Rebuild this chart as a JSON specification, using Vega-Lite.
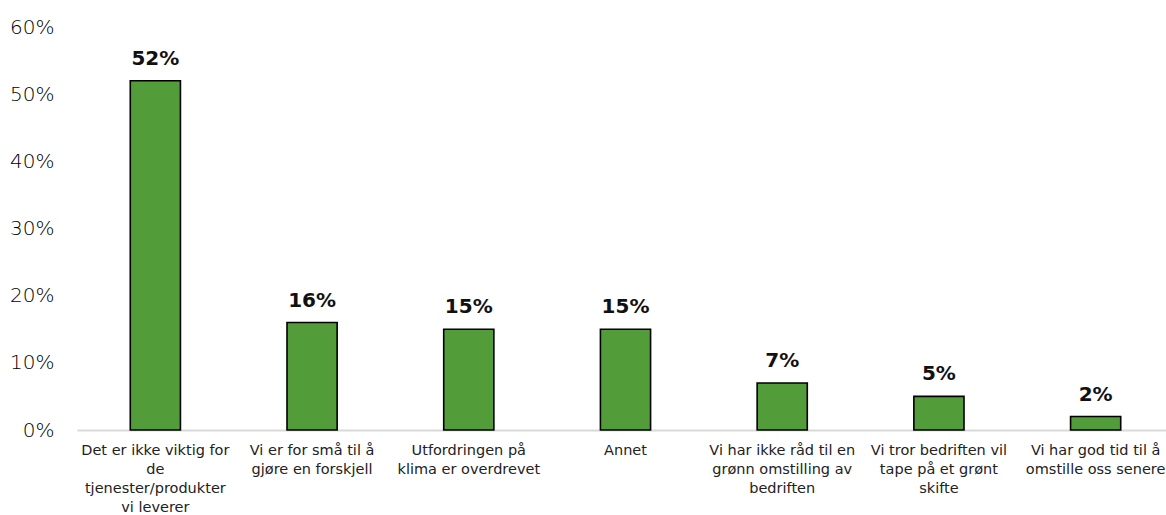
{
  "$schema": "https://vega.github.io/schema/vega-lite/v6.json",
  "width": 1097,
  "height": 403,
  "autosize": "none",
  "padding": {"left": 77, "top": 27, "right": 0, "bottom": 85},
  "background": "white",
  "config": {"view": {"stroke": null}, "font": "DejaVu Sans"},
  "data": {"values": [
    {"kategori": "Det er ikke viktig for de tjenester/produkter vi leverer", "andel": 0.52},
    {"kategori": "Vi er for små til å gjøre en forskjell", "andel": 0.16},
    {"kategori": "Utfordringen på klima er overdrevet", "andel": 0.15},
    {"kategori": "Annet", "andel": 0.15},
    {"kategori": "Vi har ikke råd til en grønn omstilling av bedriften", "andel": 0.07},
    {"kategori": "Vi tror bedriften vil tape på et grønt skifte", "andel": 0.05},
    {"kategori": "Vi har god tid til å omstille oss senere", "andel": 0.02}
  ]},
  "encoding": {
    "x": {
      "field": "kategori", "type": "nominal", "sort": null,
      "scale": {"paddingInner": 0.68, "paddingOuter": 0.34},
      "axis": {
        "title": null, "labelAngle": 0, "ticks": false,
        "domainColor": "#d9d9d9", "domainWidth": 2,
        "labelFontSize": 14.5, "labelColor": "#222222", "labelPadding": 13,
        "labelLineHeight": 19, "labelLimit": 200,
        "labelExpr": "{'Det er ikke viktig for de tjenester/produkter vi leverer': ['Det er ikke viktig for', 'de', 'tjenester/produkter', 'vi leverer'], 'Vi er for små til å gjøre en forskjell': ['Vi er for små til å', 'gjøre en forskjell'], 'Utfordringen på klima er overdrevet': ['Utfordringen på', 'klima er overdrevet'], 'Annet': 'Annet', 'Vi har ikke råd til en grønn omstilling av bedriften': ['Vi har ikke råd til en', 'grønn omstilling av', 'bedriften'], 'Vi tror bedriften vil tape på et grønt skifte': ['Vi tror bedriften vil', 'tape på et grønt', 'skifte'], 'Vi har god tid til å omstille oss senere': ['Vi har god tid til å', 'omstille oss senere']}[datum.label]"
      }
    },
    "y": {
      "field": "andel", "type": "quantitative",
      "scale": {"domain": [0, 0.6], "nice": false},
      "axis": {
        "title": null, "format": ".0%", "values": [0, 0.1, 0.2, 0.3, 0.4, 0.5, 0.6],
        "labelOverlap": false,
        "grid": false, "ticks": false, "domain": false,
        "labelFontSize": 20, "labelColor": "#000000", "labelPadding": 23, "labelFontWeight": 200
      }
    }
  },
  "layer": [
    {"mark": {"type": "bar", "color": "#529D3A", "stroke": "#000000", "strokeWidth": 1.6}},
    {"mark": {"type": "text", "baseline": "alphabetic", "dy": -16, "fontSize": 20, "fontWeight": "bold", "color": "#111111"},
     "encoding": {"text": {"field": "andel", "type": "quantitative", "format": ".0%"}}}
  ]
}
